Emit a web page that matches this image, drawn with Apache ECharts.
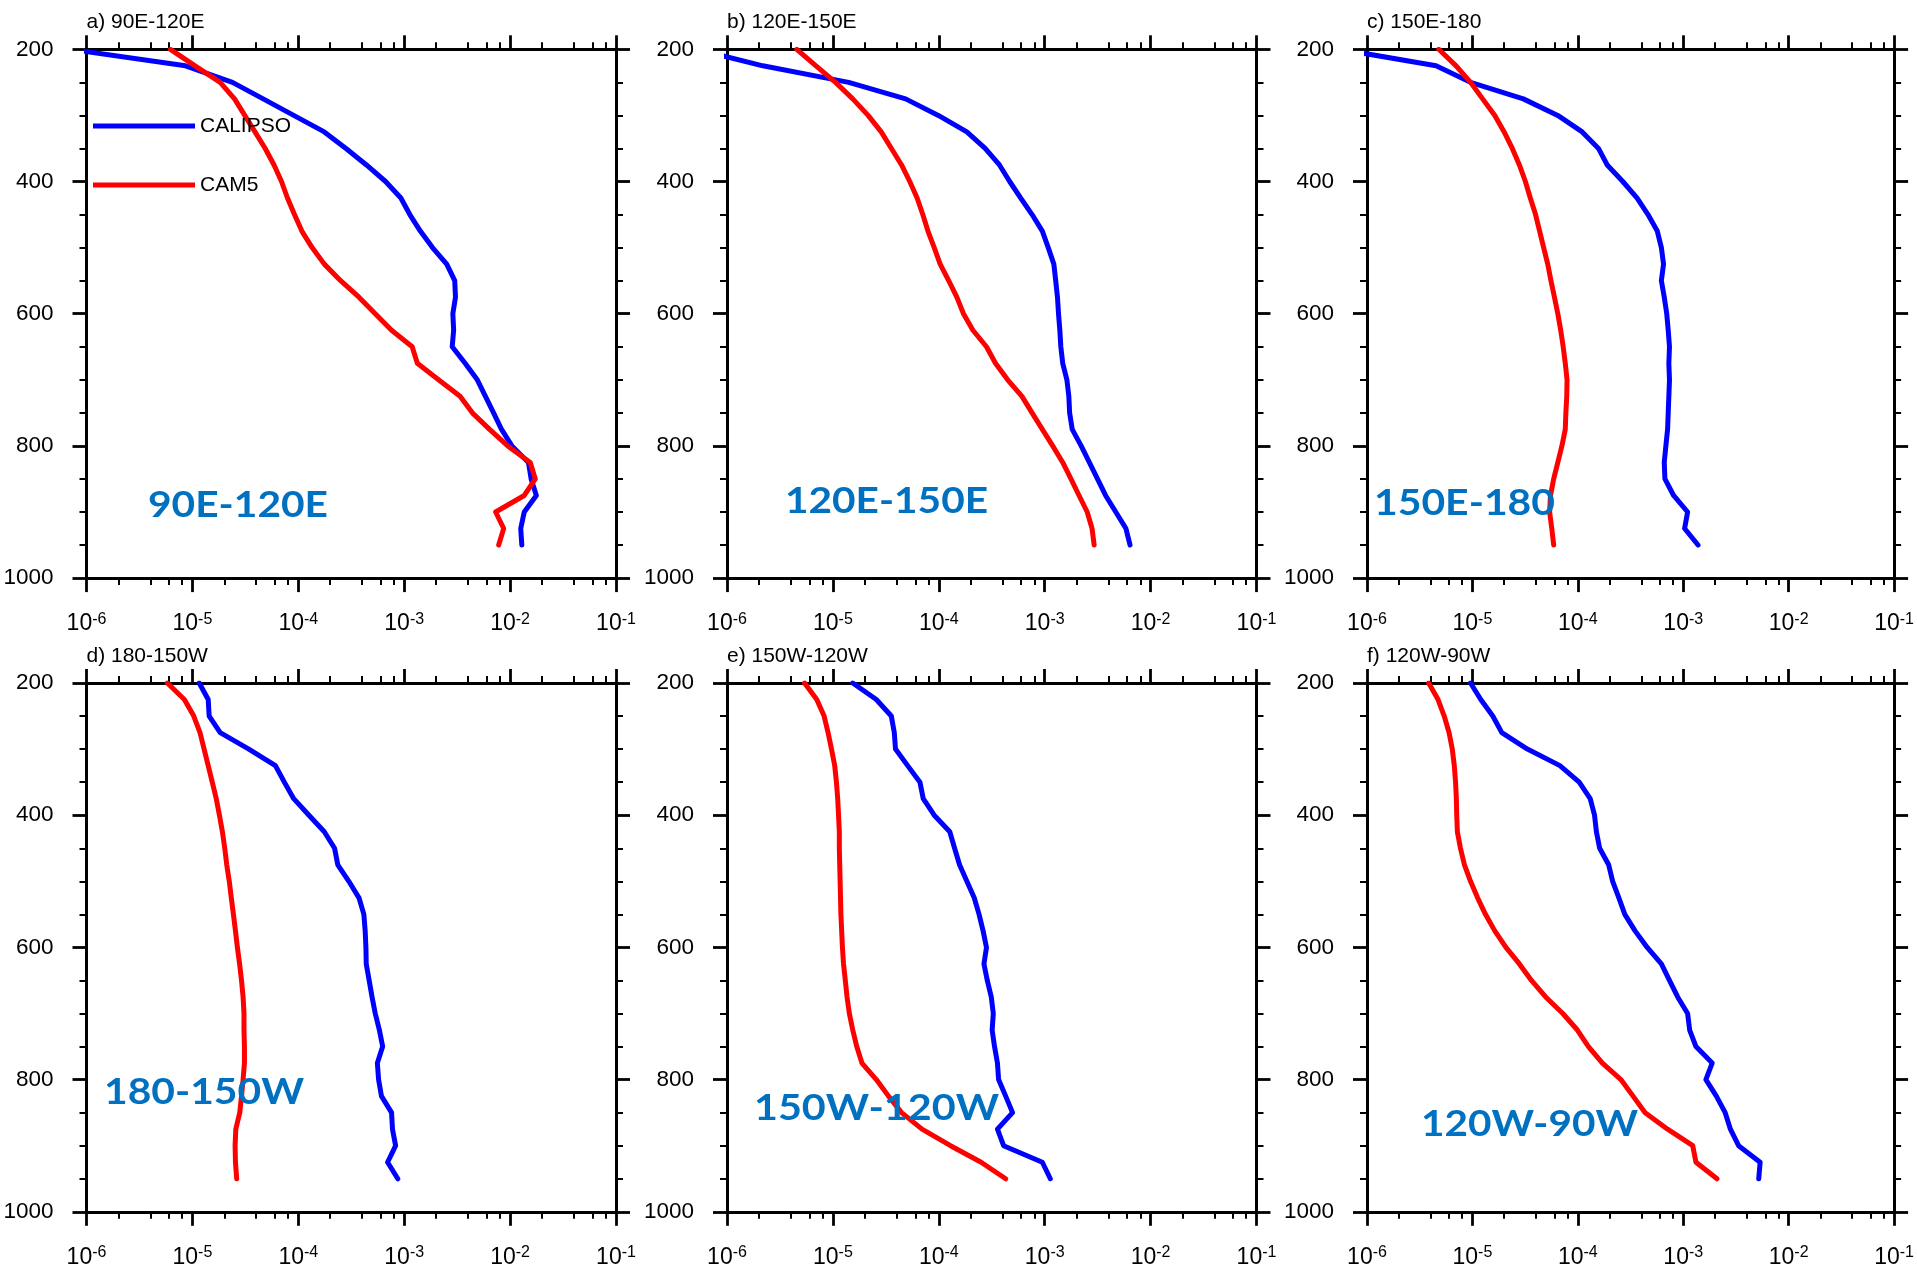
<!DOCTYPE html>
<html>
<head>
<meta charset="utf-8">
<script src="https://cdn.jsdelivr.net/npm/echarts@6/dist/echarts.min.js"></script>
<style>
html,body{margin:0;padding:0;background:#ffffff;}
#chart{width:1917px;height:1271px;}
</style>
</head>
<body>
<div id="chart"></div>
<script>
// ---------------- data ----------------
const levels = [200,225,250,275,300,325,350,375,400,425,450,475,500,525,550,575,600,625,650,675,700,725,750,775,800,825,850,875,900,925,950];

const panelTitles = ['a) 90E-120E','b) 120E-150E','c) 150E-180','d) 180-150W','e) 150W-120W','f) 120W-90W'];
const regionLabels = ['90E-120E','120E-150E','150E-180','180-150W','150W-120W','120W-90W'];
const seriesNames = ['CALIPSO','CAM5'];

const calipso_a = [7e-7,8.6e-6,2.39e-5,4.66e-5,9.05e-5,1.76e-4,2.82e-4,4.4e-4,6.67e-4,9.3e-4,1.13e-3,1.42e-3,1.85e-3,2.52e-3,3.0e-3,3.05e-3,2.88e-3,2.93e-3,2.84e-3,3.76e-3,4.9e-3,5.85e-3,6.98e-3,8.3e-3,1.04e-2,1.49e-2,1.58e-2,1.77e-2,1.36e-2,1.26e-2,1.29e-2];
const cam5_a    = [6.2e-6,1.06e-5,1.83e-5,2.5e-5,3.12e-5,3.9e-5,4.87e-5,5.9e-5,6.94e-5,7.9e-5,9.2e-5,1.08e-4,1.35e-4,1.76e-4,2.51e-4,3.74e-4,5.33e-4,7.6e-4,1.19e-3,1.33e-3,2.11e-3,3.37e-3,4.4e-3,6.4e-3,9.5e-3,1.55e-2,1.73e-2,1.36e-2,7.3e-3,8.7e-3,7.8e-3];

const calipso_b = [5.2e-7,2.18e-6,1.41e-5,4.86e-5,9.9e-5,1.84e-4,2.74e-4,3.74e-4,4.67e-4,5.94e-4,7.6e-4,9.5e-4,1.08e-3,1.22e-3,1.27e-3,1.32e-3,1.35e-3,1.39e-3,1.42e-3,1.48e-3,1.62e-3,1.69e-3,1.72e-3,1.82e-3,2.21e-3,2.64e-3,3.15e-3,3.76e-3,4.69e-3,5.85e-3,6.4e-3];
const cam5_b    = [4.56e-6,6.92e-6,1.06e-5,1.54e-5,2.15e-5,2.86e-5,3.57e-5,4.45e-5,5.32e-5,6.24e-5,7.06e-5,7.9e-5,9.05e-5,1.03e-4,1.24e-4,1.48e-4,1.71e-4,2.1e-4,2.82e-4,3.43e-4,4.47e-4,6.1e-4,7.6e-4,9.5e-4,1.19e-3,1.48e-3,1.77e-3,2.11e-3,2.52e-3,2.8e-3,2.93e-3];

const calipso_c = [5.6e-7,4.52e-6,9.6e-6,3.04e-5,6.45e-5,1.1e-4,1.57e-4,1.9e-4,2.67e-4,3.65e-4,4.63e-4,5.67e-4,6.2e-4,6.5e-4,6.2e-4,6.6e-4,6.97e-4,7.2e-4,7.4e-4,7.3e-4,7.4e-4,7.3e-4,7.2e-4,7.1e-4,6.84e-4,6.6e-4,6.7e-4,8.1e-4,1.1e-3,1.03e-3,1.38e-3];
const cam5_c    = [4.8e-6,7.0e-6,9.6e-6,1.25e-5,1.63e-5,2.0e-5,2.39e-5,2.79e-5,3.18e-5,3.54e-5,3.97e-5,4.34e-5,4.74e-5,5.18e-5,5.56e-5,6.0e-5,6.46e-5,6.88e-5,7.26e-5,7.6e-5,7.9e-5,7.85e-5,7.7e-5,7.6e-5,7.06e-5,6.46e-5,5.9e-5,5.5e-5,5.4e-5,5.66e-5,5.9e-5];

const calipso_d = [1.16e-5,1.41e-5,1.44e-5,1.83e-5,3.41e-5,6.08e-5,7.38e-5,9.05e-5,1.26e-4,1.76e-4,2.2e-4,2.36e-4,3.0e-4,3.74e-4,4.16e-4,4.28e-4,4.35e-4,4.38e-4,4.67e-4,4.97e-4,5.33e-4,5.83e-4,6.26e-4,5.58e-4,5.73e-4,6.1e-4,7.6e-4,7.75e-4,8.3e-4,6.97e-4,8.7e-4];
const cam5_d    = [5.8e-6,8.4e-6,1.03e-5,1.18e-5,1.29e-5,1.41e-5,1.54e-5,1.68e-5,1.8e-5,1.92e-5,2.02e-5,2.11e-5,2.23e-5,2.33e-5,2.44e-5,2.55e-5,2.66e-5,2.79e-5,2.91e-5,3.01e-5,3.07e-5,3.07e-5,3.1e-5,3.1e-5,3.01e-5,2.91e-5,2.8e-5,2.57e-5,2.53e-5,2.55e-5,2.62e-5];

const calipso_e = [1.54e-5,2.57e-5,3.56e-5,3.8e-5,3.9e-5,5.08e-5,6.64e-5,7.13e-5,9.05e-5,1.27e-4,1.41e-4,1.57e-4,1.84e-4,2.16e-4,2.4e-4,2.62e-4,2.82e-4,2.67e-4,2.87e-4,3.13e-4,3.27e-4,3.19e-4,3.36e-4,3.58e-4,3.67e-4,4.28e-4,4.97e-4,3.58e-4,4.09e-4,9.5e-4,1.13e-3];
const cam5_e    = [5.4e-6,7.04e-6,8.26e-6,9.0e-6,9.7e-6,1.04e-5,1.08e-5,1.11e-5,1.13e-5,1.15e-5,1.15e-5,1.16e-5,1.17e-5,1.18e-5,1.19e-5,1.21e-5,1.23e-5,1.26e-5,1.31e-5,1.36e-5,1.43e-5,1.54e-5,1.68e-5,1.88e-5,2.57e-5,3.35e-5,4.45e-5,6.94e-5,1.29e-4,2.51e-4,4.28e-4];

const calipso_f = [9.6e-6,1.2e-5,1.56e-5,1.9e-5,3.32e-5,6.76e-5,1.03e-4,1.31e-4,1.44e-4,1.5e-4,1.61e-4,1.96e-4,2.14e-4,2.45e-4,2.79e-4,3.49e-4,4.55e-4,6.2e-4,7.4e-4,8.85e-4,1.1e-3,1.15e-3,1.32e-3,1.88e-3,1.64e-3,2.06e-3,2.5e-3,2.8e-3,3.35e-3,5.36e-3,5.2e-3];
const cam5_f    = [3.85e-6,4.72e-6,5.4e-6,6.0e-6,6.44e-6,6.73e-6,6.92e-6,7.04e-6,7.1e-6,7.2e-6,7.7e-6,8.4e-6,9.6e-6,1.12e-5,1.33e-5,1.63e-5,2.08e-5,2.79e-5,3.63e-5,4.95e-5,7.2e-5,9.9e-5,1.26e-4,1.71e-4,2.56e-4,3.34e-4,4.35e-4,7.1e-4,1.23e-3,1.32e-3,2.09e-3];

const xMajorTicks = [1e-6,1e-5,1e-4,1e-3,1e-2,1e-1];
const xMinorTicks = [2e-6,4e-6,6e-6,8e-6,
                     2e-5,4e-5,6e-5,8e-5,
                     2e-4,4e-4,6e-4,8e-4,
                     2e-3,4e-3,6e-3,8e-3,
                     2e-2,4e-2,6e-2,8e-2];
const yMin = 200, yMax = 1000, yInterval = 200;

const calipsoAll = [calipso_a,calipso_b,calipso_c,calipso_d,calipso_e,calipso_f];
const cam5All = [cam5_a,cam5_b,cam5_c,cam5_d,cam5_e,cam5_f];

// ---------------- layout ----------------
const gridLefts = [86.5, 727, 1367];
const gridTops = [49.3, 683];
const gridW = 529.5, gridH = 528.8;
const bigLabelPos = [ // left x, center y, target width
  [148, 505, 180],[785, 501, 203],[1374, 503, 181],
  [104, 1092, 200],[754, 1108, 245],[1421, 1124, 217]
];
const FONT = '"Liberation Sans", Arial, sans-serif';
const BLUE = '#0000ff', RED = '#ff0000', LABEL_BLUE = '#0070c0';

const grids = [], xAxes = [], yAxes = [], series = [], graphics = [];
const axisLineStyle = {color:'#000', width:3};

const measureCtx = document.createElement('canvas').getContext('2d');
measureCtx.font = 'bold 36px Lato';

for (let i = 0; i < 6; i++) {
  const col = i % 3, row = Math.floor(i / 3);
  const left = gridLefts[col], top = gridTops[row];
  grids.push({left: left, top: top, width: gridW, height: gridH, containLabel:false});

  const baseX = {gridIndex:i, type:'log', logBase:10, min:1e-6, max:1e-1, splitLine:{show:false}, minorTick:{show:false}, minorSplitLine:{show:false}};
  // bottom major
  xAxes.push(Object.assign({}, baseX, {
    position:'bottom',
    axisLine:{show:true, onZero:false, lineStyle:axisLineStyle},
    axisTick:{show:true, inside:false, length:14, customValues:xMajorTicks, lineStyle:{color:'#000', width:2.8}},
    axisLabel:{show:true, margin:33, customValues:xMajorTicks,
      formatter: function(v){ return '{b|10}{s|' + Math.round(Math.log10(v)) + '}'; },
      rich:{
        b:{fontSize:23, fontFamily:FONT, color:'#000', lineHeight:26},
        s:{fontSize:16, fontFamily:FONT, color:'#000', lineHeight:9, verticalAlign:'top'}
      }}
  }));
  // bottom minor
  xAxes.push(Object.assign({}, baseX, {
    position:'bottom',
    axisLine:{show:false, onZero:false},
    axisTick:{show:true, inside:false, length:7, customValues:xMinorTicks, lineStyle:{color:'#000', width:2}},
    axisLabel:{show:false}
  }));
  // top major
  xAxes.push(Object.assign({}, baseX, {
    position:'top',
    axisLine:{show:true, onZero:false, lineStyle:axisLineStyle},
    axisTick:{show:true, inside:false, length:14, customValues:xMajorTicks, lineStyle:{color:'#000', width:2.8}},
    axisLabel:{show:false}
  }));
  // top minor
  xAxes.push(Object.assign({}, baseX, {
    position:'top',
    axisLine:{show:false, onZero:false},
    axisTick:{show:true, inside:false, length:7, customValues:xMinorTicks, lineStyle:{color:'#000', width:2}},
    axisLabel:{show:false}
  }));

  const baseY = {gridIndex:i, type:'value', inverse:true, min:yMin, max:yMax, interval:yInterval,
    splitLine:{show:false}, minorSplitLine:{show:false},
    axisLine:{show:true, onZero:false, lineStyle:axisLineStyle},
    axisTick:{show:true, inside:false, length:14, lineStyle:{color:'#000', width:2.8}},
    minorTick:{show:true, splitNumber:4, length:7, lineStyle:{color:'#000', width:2}}};
  yAxes.push(Object.assign({}, baseY, {
    position:'left',
    axisLabel:{show:true, margin:33, fontSize:22.5, fontFamily:FONT, color:'#000',
      formatter: function(v){ return String(v); }}
  }));
  yAxes.push(Object.assign({}, baseY, {
    position:'right',
    axisLabel:{show:false}
  }));

  const cal = calipsoAll[i], cam = cam5All[i];
  series.push({
    type:'line', name:seriesNames[0], xAxisIndex:4*i, yAxisIndex:2*i,
    data: levels.map(function(p,k){ return [cal[k], p]; }),
    symbol:'none', showSymbol:false, clip:true, animation:false, z:3,
    lineStyle:{color:BLUE, width:5, cap:'round', join:'round'},
    itemStyle:{color:BLUE}
  });
  series.push({
    type:'line', name:seriesNames[1], xAxisIndex:4*i, yAxisIndex:2*i,
    data: levels.map(function(p,k){ return [cam[k], p]; }),
    symbol:'none', showSymbol:false, clip:true, animation:false, z:3,
    lineStyle:{color:RED, width:5, cap:'round', join:'round'},
    itemStyle:{color:RED}
  });

  // panel title
  graphics.push({type:'text', x:left, y:top - 27, z:50,
    style:{text:panelTitles[i], font:'21px ' + FONT, fill:'#000', textAlign:'left', verticalAlign:'middle'}});

  // big region label
  const bl = bigLabelPos[i];
  const w = measureCtx.measureText(regionLabels[i]).width || 1;
  graphics.push({type:'text', x:bl[0], y:bl[1], z:100, scaleX: bl[2] / w, scaleY:1,
    style:{text:regionLabels[i], font:'bold 36px Lato', fill:LABEL_BLUE, textAlign:'left', verticalAlign:'middle'}});
}

const chart = echarts.init(document.getElementById('chart'), null, {renderer:'canvas'});
chart.setOption({
  animation:false,
  backgroundColor:'#ffffff',
  legend:{
    data:seriesNames, orient:'vertical', left:93, top:115.5, padding:0,
    itemWidth:102, itemHeight:5, itemGap:38, icon:'rect', selectedMode:false,
    textStyle:{fontSize:21, fontFamily:FONT, color:'#000'}
  },
  grid:grids,
  xAxis:xAxes,
  yAxis:yAxes,
  series:series,
  graphic:graphics
});
</script>
</body>
</html>
